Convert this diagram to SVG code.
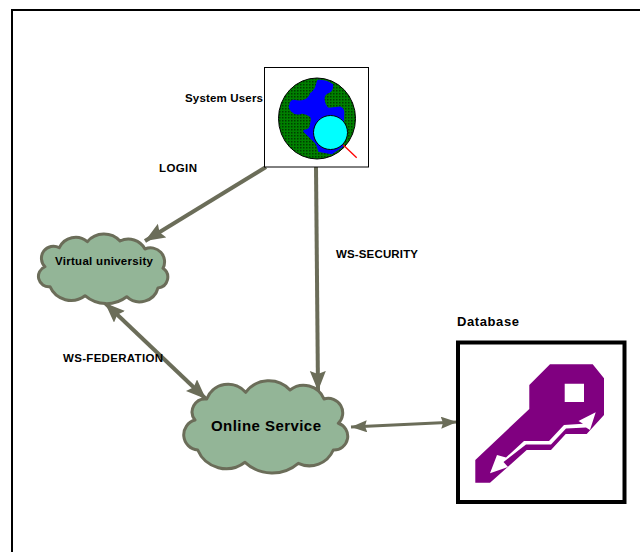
<svg xmlns="http://www.w3.org/2000/svg" width="640" height="552" viewBox="0 0 640 552">
<style>
text{font-family:"Liberation Sans",Arial,sans-serif;font-weight:bold;fill:#000}
.l{font-size:11.500px}
.cloud{fill:#93b597;stroke:#6b6d59;stroke-width:3;stroke-linejoin:round}
.c{fill:none;stroke:#6b6d59;stroke-width:4}
</style>
<defs>
<pattern id="dots" width="3" height="3" patternUnits="userSpaceOnUse"><rect width="3" height="3" fill="#008000"/><rect width="1.500" height="1.500" fill="#003c00"/></pattern>
<marker id="a" markerUnits="userSpaceOnUse" markerWidth="22" markerHeight="18" refX="20" refY="8" orient="auto-start-reverse"><path d="M0 0L20 8L0 16L3 8Z" fill="#6b6d59"/></marker>
<marker id="b" markerUnits="userSpaceOnUse" markerWidth="18" markerHeight="14" refX="16" refY="6" orient="auto-start-reverse"><path d="M0 0L16 6L0 12L2 6Z" fill="#6b6d59"/></marker>
</defs>
<rect id="frame" x="12" y="10" width="640" height="560" fill="#fff" stroke="#000" stroke-width="2"/>
<g id="connectors">
<line class="c" x1="266" y1="167" x2="145" y2="241" marker-end="url(#a)"/>
<line class="c" x1="316" y1="167" x2="318" y2="391" marker-end="url(#a)"/>
<line class="c" x1="105" y1="303" x2="206" y2="399" marker-start="url(#a)" marker-end="url(#a)"/>
<line class="c" style="stroke-width:3" x1="351" y1="427" x2="457" y2="422" marker-start="url(#b)" marker-end="url(#b)"/>
</g>
<g id="users">
<rect x="264.500" y="67.500" width="104" height="99.500" fill="#fff" stroke="#000" stroke-width="1"/>
<ellipse cx="317" cy="118.500" rx="38.500" ry="40.500" fill="url(#dots)" stroke="#000" stroke-width="1"/>
<path d="M318.300 81Q327 81 332 85Q332 90 329 91.700Q323 94 323.300 99Q324 106 328.300 109L340 107.700Q344 110 343 115L342 146L331.700 153L319.300 150.700Q318 145 316 142.300L304.500 131Q311 130 311 125Q313 118 311 116Q307 113 301.700 112.300Q296 115 292 110.700Q289 107 290.500 105Q291 101 294 101Q300 103 305.500 100.300Q310 98 311 94Q314 92 316 88.300Z" fill="#0000ff" stroke="#0000ff" stroke-width="2.500" stroke-linejoin="round"/>
<line x1="343.300" y1="145" x2="356.700" y2="157.700" stroke="#ff0000" stroke-width="1.300"/>
<circle cx="330.500" cy="132.500" r="17" fill="#00ffff" stroke="#000" stroke-width="1"/>
<text class="l" x="185" y="102" textLength="78" lengthAdjust="spacing">System Users</text>
</g>
<g id="virtual">
<path class="cloud" d="M59.300 247.700A18 18 0 0 1 87.300 241.700A22 22 0 0 1 120 241A19 19 0 0 1 145 249A14 14 0 0 1 163 268.300A10.800 10.800 0 0 1 158 288A19 19 0 0 1 126.700 296.700A33 33 0 0 1 85 295.700A23 23 0 0 1 50 286.700A10.400 10.400 0 0 1 45 266.700A12 12 0 0 1 59.300 247.700Z"/>
<text class="l" x="55" y="265" textLength="98" lengthAdjust="spacing">Virtual university</text>
</g>
<g id="online">
<path class="cloud" d="M206.700 399A23 23 0 0 1 245.700 392.300A29 29 0 0 1 290 390A22 22 0 0 1 324 399A14.500 14.500 0 0 1 338.300 423.300A13.700 13.700 0 0 1 333.300 450A26 26 0 0 1 298.300 463.300A40 40 0 0 1 245 462.300A31 31 0 0 1 197.700 450A15.300 15.300 0 0 1 195 420A13 13 0 0 1 206.700 399Z"/>
<text x="211" y="431" font-size="15" textLength="110" lengthAdjust="spacing">Online Service</text>
</g>
<g id="database">
<rect x="458" y="342.500" width="166.500" height="159.500" fill="#fff" stroke="#000" stroke-width="4"/>
<path fill-rule="evenodd" d="M550 364.300H592.700L604 378.300V415L586.700 434H565.700L551 450H526.700L490 482.700H475.300V460L529.300 409V385ZM564.700 383.700V402H584V383.700Z" fill="#800080"/>
<path d="M595.700 412.300L578.500 421L583 423.700L564 425L549 441L524 441L506 457.500L497 455L490 473.300L508 467L503.500 462L526 444.500L551 444.500L566 428.500L586 427.500L590 430Z" fill="#fff"/>
<text x="457" y="326" font-size="13" textLength="62" lengthAdjust="spacing">Database</text>
</g>
<text class="l" x="159" y="172" textLength="38" lengthAdjust="spacing">LOGIN</text>
<text class="l" x="336" y="258" textLength="82" lengthAdjust="spacing">WS-SECURITY</text>
<text class="l" x="63" y="362" textLength="100" lengthAdjust="spacing">WS-FEDERATION</text>
</svg>
